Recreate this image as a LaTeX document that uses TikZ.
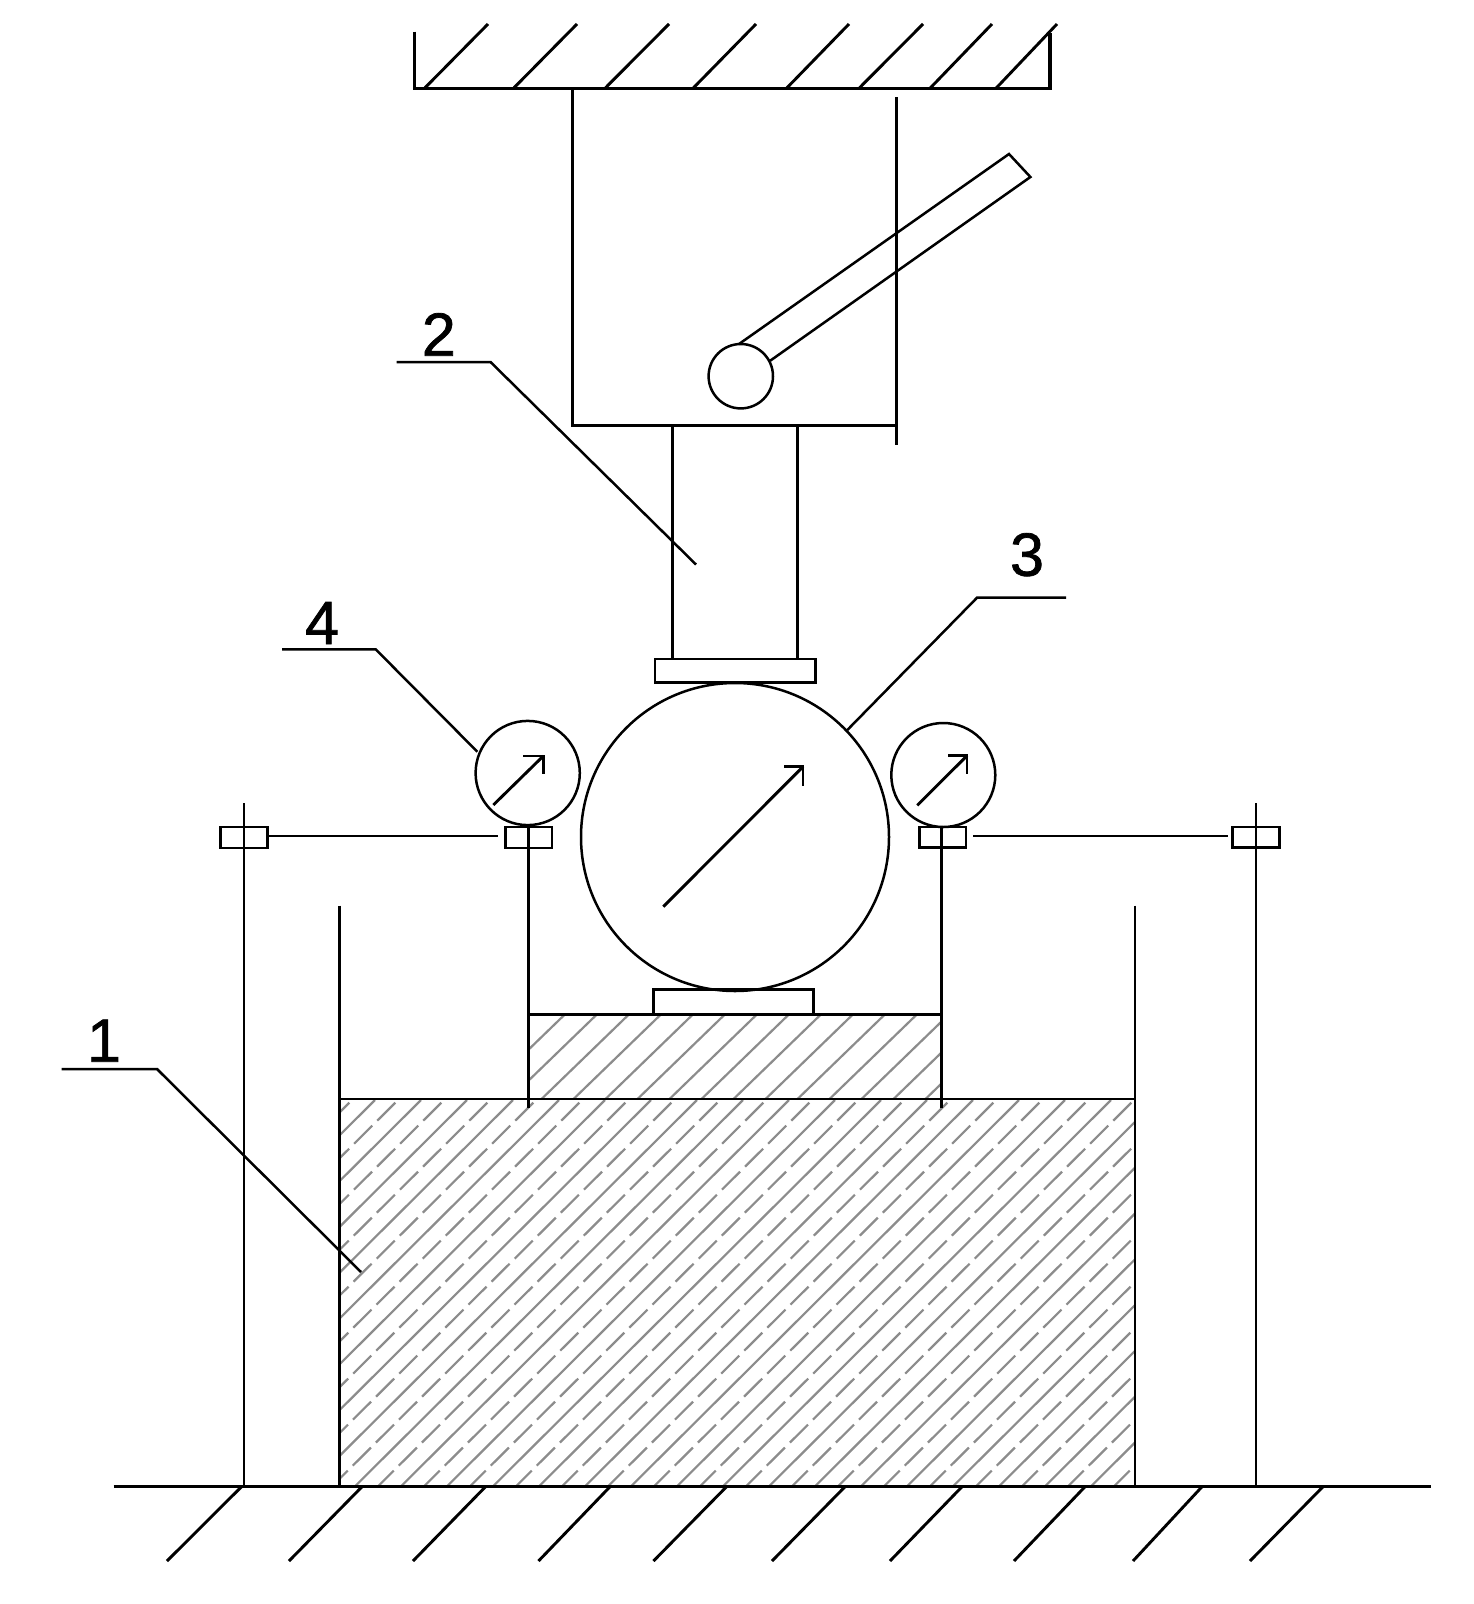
\documentclass[tikz,border=0pt]{standalone}
\usepackage{fontspec}
\setmainfont{Liberation Sans}
\newfontfamily\numfont[FakeBold=1.2]{Liberation Sans}
\definecolor{hatchgray}{HTML}{8C8C8C}
\tikzset{
  part/.style={line width=2.9pt, line join=miter},
  thinpart/.style={line width=2.5pt},
  heavy/.style={line width=3.2pt},
  hatchline/.style={line width=2.2pt, color=hatchgray},
  hatchdash/.style={hatchline, dash pattern=on 25.5pt off 7.09pt},
  numeral/.style={anchor=base, inner sep=0pt, font=\numfont\fontsize{61}{61}\selectfont}
}
\begin{document}
\begin{tikzpicture}[x=1pt,y=-1pt]
\useasboundingbox (0,0) rectangle (1473,1604);
\fill[white] (0,0) rectangle (1473,1604);

% hatching of the middle block
\begin{scope}
\clip (528.3,1014.3) rectangle (941.7,1099);
\foreach \k in {0,...,15}
  \draw[hatchline] ({565+32*\k},1014.3) -- ++({-100/0.968},100);
\end{scope}

% hatching of the lower block
\begin{scope}
\clip (339.3,1099) rectangle (1135,1486.7);
\foreach \k in {0,...,25}
  \draw[hatchline] ({375+46*\k},1100) -- ++({-400/0.9956},400);
\foreach \k in {0,...,26}
  \draw[hatchdash] ({352+46*\k+20.4},1079.7) -- ++({-420/0.9956},420);
\end{scope}

% ceiling
\draw[heavy] (414.4,31.7) -- (414.4,88.3) -- (1050,88.3) -- (1050,33);
\foreach \a/\b in {424.5/488,513.5/577,605/669,693/756,786.5/849,859/923,930/992,996/1057}
  \draw[part] (\a,88.3) -- (\b,24);

% press frame
\draw[part] (572.7,88.3) -- (572.7,425.7) -- (896.7,425.7);
\draw[part] (896.7,97.3) -- (896.7,445.3);
\draw[part] (672.3,425.7) -- (672.3,659);
\draw[part] (797.3,425.7) -- (797.3,659);

% handle
\draw[thinpart] (739,344) -- (1009,154) -- (1030.4,177) -- (770.2,360.7);
\draw[thinpart] (740.8,376.2) circle (32.2);

% platens
\draw[part] (655,659) rectangle (815.3,682.7);
\draw[part] (653.3,1014.3) -- (653.3,989.3) -- (813.3,989.3) -- (813.3,1014.3);

% large dial
\draw[thinpart] (735,837) circle (154);
\draw[part] (663.3,906.7) -- (803,766.7);
\draw[part] (784,766.7) -- (803,766.7) -- (803,785.7);

% left gauge
\draw[thinpart] (527.7,773) circle (52.1);
\draw[part] (493.3,805) -- (543.3,756);
\draw[part] (523.3,756) -- (543.3,756) -- (543.3,774);

% right gauge
\draw[thinpart] (943.3,775) circle (52);
\draw[part] (917.3,805.3) -- (967,755.7);
\draw[part] (948,755.7) -- (967,755.7) -- (967,774.3);

% clamps and rods
\draw[part] (220.7,827) rectangle (267.7,848);
\draw[part] (505.3,827) rectangle (552,848);
\draw[part] (919.3,827) rectangle (966,847.7);
\draw[part] (1232.7,827) rectangle (1279.3,847.7);
\draw[part] (267.7,836) -- (497.7,836);
\draw[part] (973.3,836) -- (1228.3,836);
\draw[part] (244,803.3) -- (244,1486.7);
\draw[part] (1256,803.3) -- (1256,1486.7);
\draw[part] (528.3,827) -- (528.3,1108.3);
\draw[part] (941.7,827) -- (941.7,1108.3);

% blocks
\draw[part] (528.3,1014.3) -- (941.7,1014.3);
\draw[part] (339.3,905.7) -- (339.3,1486.7);
\draw[part] (1135,905.7) -- (1135,1486.7);
\draw[part] (339.3,1099) -- (1135,1099);

% ground
\draw[heavy] (113.7,1486.7) -- (1431,1486.7);
\foreach \a/\b in {241.5/167,362/289,485.5/413,610/538.5,726.5/653.5,845/772,962/890,1085/1014,1202/1133,1323/1250}
  \draw[part] (\a,1486.7) -- (\b,1561);

% leaders and numerals
\coordinate (leadAa) at (61.7,1069);
\coordinate (leadAb) at (157,1069);
\coordinate (leadAc) at (361,1272);
\draw[thinpart] (leadAa) -- (leadAb) -- (leadAc);
\node[numeral] (numA) at (104,1061.7) {1};

\coordinate (leadBa) at (396.6,362);
\coordinate (leadBb) at (490.5,362);
\coordinate (leadBc) at (696,564.5);
\draw[thinpart] (leadBa) -- (leadBb) -- (leadBc);
\node[numeral] (numB) at (438.8,355.7) {2};

\coordinate (leadCa) at (1066,597.7);
\coordinate (leadCb) at (977,597.7);
\coordinate (leadCc) at (847.3,730);
\draw[thinpart] (leadCa) -- (leadCb) -- (leadCc);
\node[numeral] (numC) at (1027,575.7) {3};

\coordinate (leadDa) at (282,649.3);
\coordinate (leadDb) at (375.7,649.3);
\coordinate (leadDc) at (477.3,751.7);
\draw[thinpart] (leadDa) -- (leadDb) -- (leadDc);
\node[numeral] (numD) at (322,644) {4};
\end{tikzpicture}
\end{document}
